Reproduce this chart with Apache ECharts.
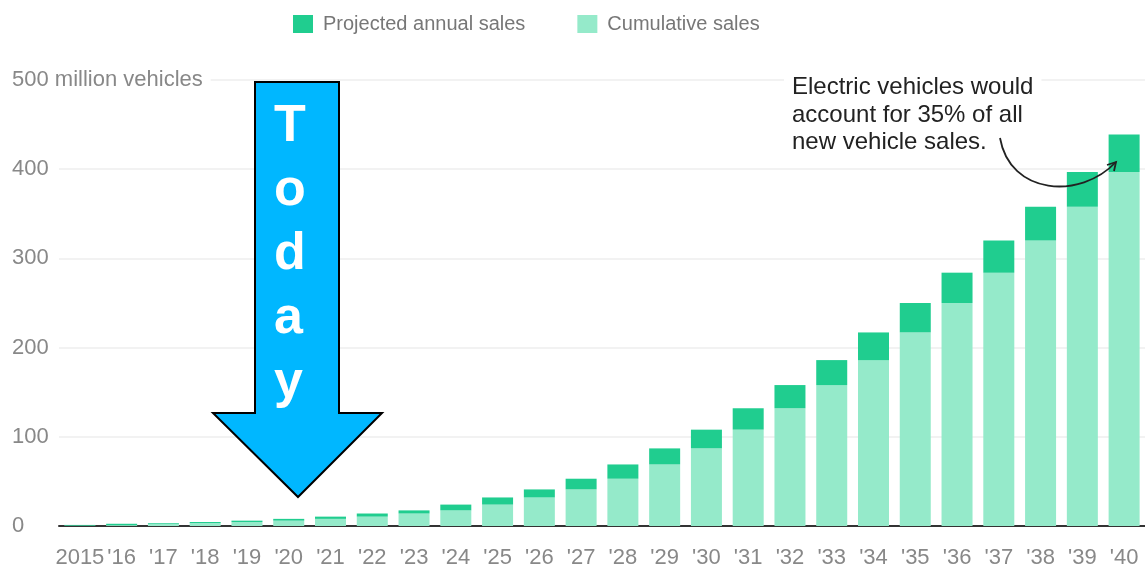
<!DOCTYPE html>
<html>
<head>
<meta charset="utf-8">
<script src="https://cdn.jsdelivr.net/npm/echarts@6/dist/echarts.min.js"></script>
<style>
  html, body { margin: 0; padding: 0; background: #fff; }
  #chart { width: 1145px; height: 571px; }
</style>
</head>
<body>
<div id="chart"></div>
<script>
// categories
var years = ['2015', "'16", "'17", "'18", "'19", "'20", "'21", "'22", "'23", "'24", "'25", "'26", "'27",
  "'28", "'29", "'30", "'31", "'32", "'33", "'34", "'35", "'36", "'37", "'38", "'39", "'40"];

// million vehicles
var cumulative = [0.5, 1, 2.5, 3.3, 4.5, 6, 8, 10.5, 14, 17.5, 24, 32, 41, 53, 69, 87,
  108, 132, 158, 186, 217, 250, 284, 320, 358, 397];
var annual = [0.7, 1.5, 0.8, 1.2, 1.5, 2, 2.5, 3.5, 3.5, 6.5, 8, 9, 12, 16, 18, 21,
  24, 26, 28, 31, 33, 34, 36, 38, 39, 42];

var yMax = 500;
var yStep = 100;
var yUnit = 'million vehicles';
var note = ['Electric vehicles would', 'account for 35% of all', 'new vehicle sales.'];
var todayText = 'Today';

var chart = echarts.init(document.getElementById('chart'));

var font = 'Liberation Sans, Arial, Helvetica, sans-serif';

chart.setOption({
  animation: false,
  legend: {
    left: 288,
    top: 9,
    itemWidth: 20,
    itemHeight: 18,
    itemGap: 52,
    icon: 'rect',
    data: ['Projected annual sales', 'Cumulative sales'],
    textStyle: { fontFamily: font, fontSize: 20, color: '#777', padding: [0, 0, 0, 5] }
  },
  grid: { left: 59, right: 0, top: 80, bottom: 45, containLabel: false },
  xAxis: {
    type: 'category',
    data: years,
    axisLine: { lineStyle: { color: '#333', width: 2 } },
    axisTick: { alignWithLabel: true, length: 10, lineStyle: { color: '#888', width: 1.5 } },
    axisLabel: { fontFamily: font, fontSize: 22, color: '#888', margin: 21, interval: 0 }
  },
  yAxis: {
    type: 'value',
    min: 0,
    max: yMax,
    interval: yStep,
    axisLine: { show: false },
    axisTick: { show: false },
    splitLine: { lineStyle: { color: '#eee', width: 1.5 } },
    axisLabel: {
      fontFamily: font,
      fontSize: 22,
      color: '#888',
      align: 'left',
      margin: 47,
      backgroundColor: '#fff',
      padding: [2, 8, 2, 0],
      formatter: function (v) { return v === yMax ? v + ' ' + yUnit : String(v); }
    }
  },
  series: [
    {
      name: 'Cumulative sales',
      type: 'bar',
      stack: 'ev',
      barWidth: 31,
      itemStyle: { color: '#95EACA' },
      data: cumulative
    },
    {
      name: 'Projected annual sales',
      type: 'bar',
      stack: 'ev',
      barWidth: 31,
      itemStyle: { color: '#20CD8F' },
      data: annual
    }
  ],
  graphic: [
    {
      type: 'polygon',
      z: 100,
      shape: {
        points: [[255, 82], [339, 82], [339, 413], [382, 413], [298, 497], [213, 413], [255, 413]]
      },
      style: { fill: '#00B7FF', stroke: '#000', lineWidth: 2 }
    },
    {
      type: 'text',
      z: 101,
      left: 274,
      top: 95,
      style: {
        text: todayText.split('').join('\n'),
        fontFamily: font,
        fontWeight: 'bold',
        fontSize: 52,
        lineHeight: 64,
        fill: '#fff',
        align: 'center',
        width: 40
      }
    },
    {
      type: 'text',
      z: 100,
      left: 784,
      top: 72,
      style: {
        text: note.join('\n'),
        fontFamily: font,
        fontSize: 24,
        lineHeight: 27.5,
        fill: '#222',
        backgroundColor: '#fff',
        padding: [2, 8, 2, 8]
      }
    },
    {
      type: 'bezierCurve',
      z: 100,
      shape: { x1: 1000, y1: 138, cpx1: 1010, cpy1: 195, cpx2: 1080, cpy2: 200, x2: 1116, y2: 162 },
      style: { stroke: '#222', lineWidth: 1.8, fill: null }
    },
    {
      type: 'polyline',
      z: 100,
      shape: { points: [[1107, 165], [1116, 162], [1114, 171]] },
      style: { stroke: '#222', lineWidth: 1.8, fill: null }
    }
  ]
});
</script>
</body>
</html>
